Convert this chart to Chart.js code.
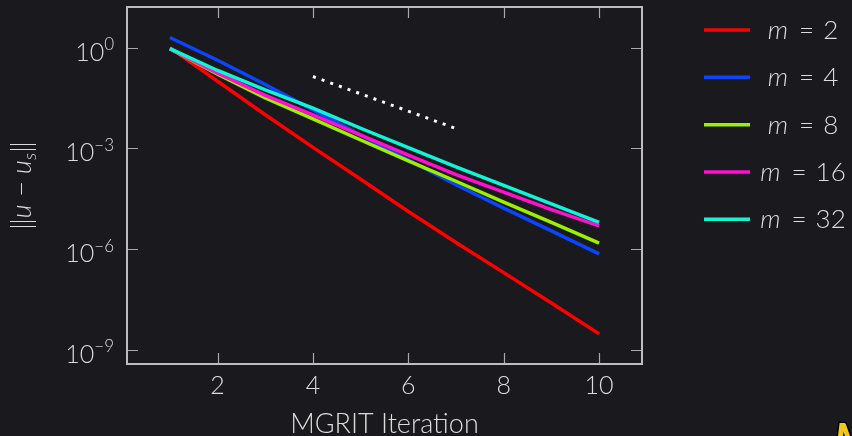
<!DOCTYPE html>
<html>
<head>
<meta charset="utf-8">
<script src="https://cdn.jsdelivr.net/npm/chart.js@4.4.0/dist/chart.umd.min.js"></script>
<style>
  html, body { margin: 0; padding: 0; background: #1a1a1e; }
  #wrap { width: 852px; height: 436px; position: relative; }
</style>
</head>
<body>
<div id="wrap"><canvas id="chart"></canvas></div>
<script>
// Datos (error vs. iteración MGRIT)
const iterations = [1, 2, 3, 4, 5, 6, 7, 8, 9, 10];
const mValues = ['2', '4', '8', '16', '32'];
const errM2  = [1.0, 1.0e-1, 1.0e-2, 1.07e-3, 1.2e-4, 1.32e-5, 1.58e-6, 2.0e-7, 2.5e-8, 3.0e-9];
const errM4  = [2.0, 0.42, 8.0e-2, 1.4e-2, 2.5e-3, 4.5e-4, 8.3e-5, 1.66e-5, 3.5e-6, 7.2e-7];
const errM8  = [0.93, 0.162, 3.16e-2, 7.6e-3, 1.78e-3, 4.27e-4, 1.05e-4, 2.5e-5, 6.3e-6, 1.51e-6];
const errM16 = [0.93, 0.174, 3.8e-2, 1.0e-2, 2.5e-3, 6.3e-4, 1.66e-4, 5.0e-5, 1.51e-5, 4.9e-6];
const errM32 = [0.93, 0.209, 5.5e-2, 1.58e-2, 3.98e-3, 1.05e-3, 2.8e-4, 7.9e-5, 2.24e-5, 6.3e-6];
const refIters = [4, 7];
const refErr = [0.138, 3.9e-3];
const xTicks = [2, 4, 6, 8, 10];
const yTicks = [1, 1e-3, 1e-6, 1e-9];
const yTickExps = ['0', '\u22123', '\u22126', '\u22129'];

const colors = ['#ff0000', '#0a46ff', '#9cf000', '#ff10d0', '#10f5d8'];
const allErr = [errM2, errM4, errM8, errM16, errM32];

const FONT = 'Lato, "Open Sans", sans-serif';
const W = '300 ';
const TEXT = '#dcdcdc';

const toPoints = (xs, ys) => xs.map((v, i) => ({ x: v, y: ys[i] }));

const datasets = allErr.map((errs, i) => ({
  label: 'm = ' + mValues[i],
  data: toPoints(iterations, errs),
  borderColor: colors[i],
  borderWidth: 3.5,
  pointRadius: 0,
  tension: 0,
  order: allErr.length - i
}));
datasets.push({
  label: 'ref',
  data: toPoints(refIters, refErr),
  borderColor: '#ffffff',
  borderWidth: 3,
  borderDash: [3, 6.2],
  borderCapStyle: 'butt',
  pointRadius: 0,
  order: 0
});

const decor = {
  id: 'decor',
  beforeDraw(chart) {
    const { ctx, width, height } = chart;
    ctx.save();
    ctx.fillStyle = '#1a1a1e';
    ctx.fillRect(0, 0, width, height);
    ctx.restore();
  },
  beforeDatasetsDraw(chart) {
    const { ctx, chartArea: a, scales: { x, y } } = chart;
    ctx.save();
    ctx.strokeStyle = '#a8a8a8';
    ctx.lineWidth = 1.2;
    const tl = 11;
    xTicks.forEach(v => {
      const px = Math.round(x.getPixelForValue(v)) + 0.5;
      ctx.beginPath();
      ctx.moveTo(px, a.bottom); ctx.lineTo(px, a.bottom - tl);
      ctx.moveTo(px, a.top); ctx.lineTo(px, a.top + tl);
      ctx.stroke();
    });
    yTicks.forEach(v => {
      const py = Math.round(y.getPixelForValue(v)) + 0.5;
      ctx.beginPath();
      ctx.moveTo(a.left, py); ctx.lineTo(a.left + tl, py);
      ctx.moveTo(a.right, py); ctx.lineTo(a.right - tl, py);
      ctx.stroke();
    });
    ctx.restore();
  },
  afterDraw(chart) {
    const { ctx, chartArea: a, scales: { x, y } } = chart;
    ctx.save();
    // marco
    ctx.strokeStyle = '#bdbdbd';
    ctx.lineWidth = 2;
    ctx.strokeRect(a.left, a.top, a.right - a.left, a.bottom - a.top);

    ctx.fillStyle = TEXT;
    ctx.textBaseline = 'alphabetic';

    // etiquetas eje x
    ctx.font = W + '25px ' + FONT;
    ctx.textAlign = 'center';
    xTicks.forEach(v => ctx.fillText(String(v), x.getPixelForValue(v), 394));

    // etiquetas eje y (10^k)
    yTicks.forEach((v, i) => {
      const py = y.getPixelForValue(v);
      ctx.font = W + '17px ' + FONT;
      const ew = ctx.measureText(yTickExps[i]).width;
      ctx.textAlign = 'right';
      ctx.fillText(yTickExps[i], 114, py + 2.5);
      ctx.font = W + '25px ' + FONT;
      ctx.fillText('10', 114 - ew, py + 13);
    });

    // título eje x (ZWNJ evita la ligadura "ti")
    ctx.font = W + '27px ' + FONT;
    ctx.textAlign = 'center';
    ctx.fillText('MGRIT Itera\u200Ction', (a.left + a.right) / 2, 433);

    // título eje y: ||u - u_s||
    ctx.save();
    ctx.translate(31, (a.top + a.bottom) / 2);
    ctx.rotate(-Math.PI / 2);
    const parts = [
      { t: '\u2016', f: W + '27px ' + FONT, dy: 0 },
      { t: 'u', f: 'italic ' + W + '27px ' + FONT, dy: 0 },
      { t: ' \u2212 ', f: W + '27px ' + FONT, dy: 0 },
      { t: 'u', f: 'italic ' + W + '27px ' + FONT, dy: 0 },
      { t: 's', f: 'italic ' + W + '18px ' + FONT, dy: 5 },
      { t: '\u2016', f: W + '27px ' + FONT, dy: 0 }
    ];
    let total = 0;
    parts.forEach(p => { ctx.font = p.f; p.w = ctx.measureText(p.t).width; total += p.w; });
    let cx = -total / 2;
    ctx.textAlign = 'left';
    parts.forEach(p => { ctx.font = p.f; ctx.fillText(p.t, cx, p.dy); cx += p.w; });
    ctx.restore();

    // leyenda
    const legendY = [30, 77.3, 124.7, 172, 219.3];
    mValues.forEach((m, i) => {
      const ly = legendY[i];
      ctx.strokeStyle = colors[i];
      ctx.lineWidth = 3.5;
      ctx.beginPath();
      ctx.moveTo(704, ly); ctx.lineTo(750, ly);
      ctx.stroke();
      ctx.font = 'italic ' + W + '26px ' + FONT;
      const mw = ctx.measureText('m').width;
      ctx.font = W + '26px ' + FONT;
      const eqw = ctx.measureText('=').width;
      const nw = ctx.measureText(m).width;
      const gap1 = 11, gap2 = 9;
      const start = 803 - (mw + gap1 + eqw + gap2 + nw) / 2;
      ctx.textAlign = 'left';
      ctx.fillStyle = TEXT;
      ctx.font = 'italic ' + W + '26px ' + FONT;
      ctx.fillText('m', start, ly + 9);
      ctx.font = W + '26px ' + FONT;
      ctx.fillText('=', start + mw + gap1, ly + 9);
      ctx.fillText(m, start + mw + gap1 + eqw + gap2, ly + 9);
    });

    // logo cortado en la esquina
    ctx.font = 'italic bold 44px ' + FONT;
    ctx.textAlign = 'left';
    ctx.lineWidth = 3;
    ctx.strokeStyle = '#000000';
    ctx.strokeText('M', 834, 455);
    ctx.fillStyle = '#f2c81e';
    ctx.fillText('M', 834, 455);
    ctx.restore();
  }
};

document.addEventListener('DOMContentLoaded', () => {
  const ctx = document.getElementById('chart').getContext('2d');
  new Chart(ctx, {
    type: 'line',
    data: { datasets },
    options: {
      responsive: true,
      maintainAspectRatio: false,
      animation: false,
      layout: { padding: { left: 127, top: 7, right: 210, bottom: 72 } },
      plugins: { legend: { display: false }, tooltip: { enabled: false } },
      scales: {
        x: {
          type: 'linear',
          display: false,
          min: 0.1,
          max: 10.9,
          afterBuildTicks: s => { s.ticks = xTicks.map(v => ({ value: v })); }
        },
        y: {
          type: 'logarithmic',
          display: false,
          min: Math.pow(10, -9.42),
          max: Math.pow(10, 1.21),
          afterBuildTicks: s => { s.ticks = yTicks.map(v => ({ value: v })); }
        }
      }
    },
    plugins: [decor]
  });
});
</script>
</body>
</html>
